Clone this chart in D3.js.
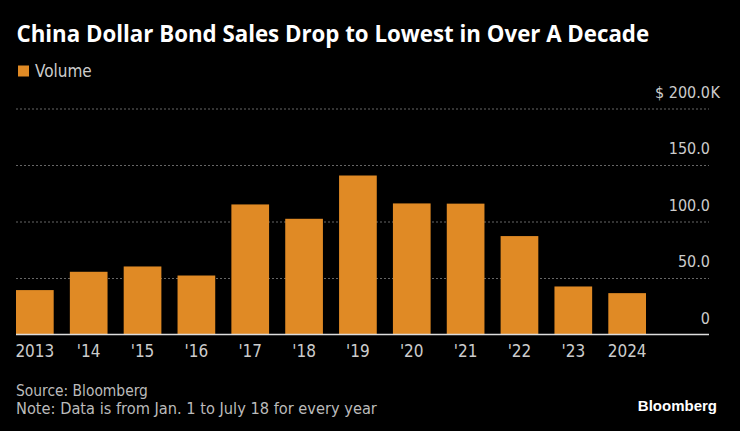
<!DOCTYPE html>
<html><head><meta charset="utf-8">
<script src="https://cdn.jsdelivr.net/npm/d3@7"></script>
<style>
html,body{margin:0;padding:0;background:#000;}
svg{display:block;}
</style></head>
<body>
<svg id="c" width="740" height="431"></svg>
<script>
const years = ["2013","'14","'15","'16","'17","'18","'19","'20","'21","'22","'23","2024"];
const volume = [39.3, 55.5, 60.2, 52.2, 115.1, 102.4, 140.7, 116.0, 115.8, 87.1, 42.5, 36.6];
const yTicks = [0, 50, 100, 150, 200];
const yTickLabels = ["0", "50.0", "100.0", "150.0", "200.0"];

const FONT = "'Liberation Sans Narrow','DejaVu Sans Condensed','Liberation Sans',sans-serif";
const svg = d3.select("#c");
svg.append("rect").attr("width",740).attr("height",431).attr("fill","#000");

const x = d3.scaleBand().domain(years).range([16, 646]).paddingInner(0.3).paddingOuter(0);
const y = d3.scaleLinear().domain([0, 200]).range([334.5, 108.5]);

function fitWidth(sel, target, base){
  const w = sel.node().getComputedTextLength();
  sel.attr("font-size", base * target / w);
}

// title
const title = svg.append("text").attr("x",16.5).attr("y",42).attr("fill","#fff")
  .attr("font-family","'Open Sans','DejaVu Sans',sans-serif").attr("font-weight","bold").attr("font-size",20)
  .text("China Dollar Bond Sales Drop to Lowest in Over A Decade");
fitWidth(title, 633, 20);

// legend
svg.append("rect").attr("x",18).attr("y",65.5).attr("width",11).attr("height",11).attr("fill","#e08a25");
svg.append("text").attr("x",35).attr("y",77).attr("fill","#ccc").attr("font-family",FONT).attr("font-size",17).text("Volume");

// grid
svg.append("g").selectAll("line").data(yTicks.filter(d=>d>0)).join("line")
  .attr("x1",16).attr("x2",709).attr("y1",d=>y(d)+0.5).attr("y2",d=>y(d)+0.5)
  .attr("stroke","#666").attr("stroke-width",1).attr("stroke-dasharray","2,2");

// y labels
const yl = svg.append("g");
yl.selectAll("text").data(yTicks).join("text")
  .attr("x",710).attr("y",d=>y(d)-11).attr("text-anchor","end")
  .attr("fill","#ccc").attr("font-family",FONT).attr("font-size",16)
  .text((d,i)=> i===yTicks.length-1 ? "$ " + yTickLabels[i] : yTickLabels[i]);
yl.append("text").attr("x",710.5).attr("y",y(200)-11).attr("fill","#ccc").attr("font-family",FONT).attr("font-size",16).text("K");

// bars
svg.append("g").selectAll("rect").data(volume).join("rect")
  .attr("x",(d,i)=>x(years[i])).attr("width",x.bandwidth())
  .attr("y",d=>y(d)).attr("height",d=>y(0)-y(d)).attr("fill","#e08a25");

// axis line
svg.append("line").attr("x1",16).attr("x2",709).attr("y1",y(0)).attr("y2",y(0)).attr("stroke","#ddd").attr("stroke-width",1.5);

// x labels
svg.append("g").selectAll("text").data(years).join("text")
  .attr("x",d=>x(d)+x.bandwidth()/2).attr("y",357).attr("text-anchor","middle")
  .attr("fill","#ccc").attr("font-family",FONT).attr("font-size",17).text(d=>d);

// footer
const src = svg.append("text").attr("x",16).attr("y",396).attr("fill","#bbb").attr("font-family",FONT).attr("font-size",15).text("Source: Bloomberg");
fitWidth(src, 132, 15);
const note = svg.append("text").attr("x",16).attr("y",414).attr("fill","#bbb").attr("font-family",FONT).attr("font-size",15).text("Note: Data is from Jan. 1 to July 18 for every year");
fitWidth(note, 361, 15);
svg.append("text").attr("x",717).attr("y",411).attr("text-anchor","end").attr("fill","#fff")
  .attr("font-family","'Liberation Sans',sans-serif").attr("font-weight","bold").attr("font-size",15).text("Bloomberg");
</script>
</body></html>
